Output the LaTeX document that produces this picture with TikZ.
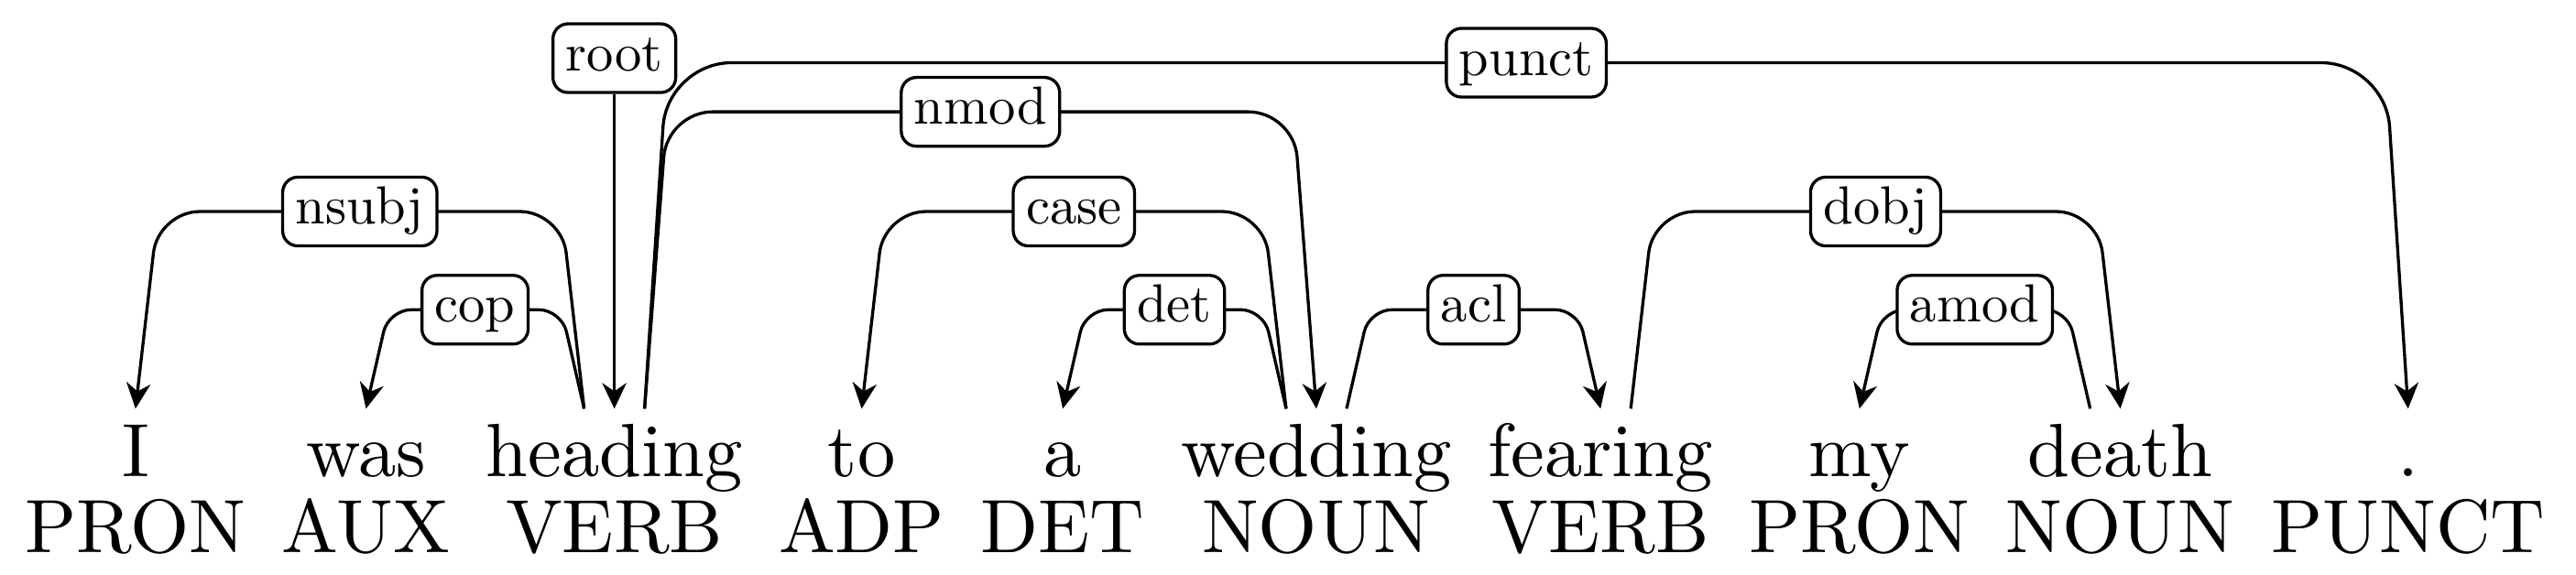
\documentclass[tikz,border=0pt]{standalone}
\usepackage{fontspec}
\usepackage{tikz}
\usetikzlibrary{arrows.meta,calc,matrix,positioning}
\newfontface\deplabelfont{lmroman10-regular.otf}
\tikzset{dep sentence/.style={
    matrix of nodes,
    column sep=4.8pt, row sep=1pt,
    inner sep=0pt,
    nodes={inner sep=0pt,
      text height=7pt,
      text depth=2pt,
      anchor=center
    },
  },
  dep edge/.style={draw, line width=0.4pt, rounded corners=#1},
  dep edge/.default=6pt,
  dep label/.style={draw, fill=white, rounded corners=2pt,
    font=\fontsize{7.1}{8}\deplabelfont,
    inner xsep=1.7pt, inner ysep=1.4pt, text height=4.8pt, text depth=1.5pt},
  dep left/.style={{Stealth[length=3.4pt,width=3.2pt]}-},
  dep right/.style={-{Stealth[length=3.4pt,width=3.2pt]}}
}
% #1 arrow side, #2 left end, #3 right end, #4 height, #5 corner, #6 label
\newcommand{\depedge}[6]{%
  \draw[dep edge=#5, #1] #2 -- ++(3pt,#4) -- node[dep label] {#6} ($#3+(-3pt,#4)$) -- #3;
}

\begin{document}
\begin{tikzpicture}
    \matrix (m) [dep sentence] at (0,0) {
        I & was & heading & to & a & wedding & fearing & my & death & . \\
        PRON & AUX & VERB & ADP & DET & NOUN & VERB & PRON & NOUN & PUNCT \\
    };
    \useasboundingbox ($(m.south west)+(-3.15pt,-0.8pt)$) rectangle ++(340.85pt,76.1pt);
    \foreach \i in {1,...,10}
        \coordinate (w\i) at ($(m-1-\i.north)+(0,1.8pt)$);
    \coordinate (w3l) at ($(w3)+(-4pt,0)$);
    \coordinate (w3r) at ($(w3)+(4pt,0)$);
    \coordinate (w6l) at ($(w6)+(-4pt,0)$);
    \coordinate (w6r) at ($(w6)+(4pt,0)$);
    \coordinate (w7r) at ($(w7)+(4pt,0)$);
    \coordinate (w9l) at ($(w9)+(-4pt,0)$);

    \node[dep label] (root) at ($(m-1-3.north)+(0,48.2pt)$) {root};
    \draw[dep right] (root.south) -- (w3);

    \depedge{dep left}{(w1)}{(w3l)}{26.1pt}{5.5pt}{nsubj}
    \depedge{dep left}{(w2)}{(w3l)}{13.1pt}{3pt}{cop}
    \depedge{dep right}{(w3r)}{(w10)}{45.8pt}{8.5pt}{punct}
    \depedge{dep right}{(w3r)}{(w6)}{39.3pt}{6pt}{nmod}
    \depedge{dep left}{(w4)}{(w6l)}{26.1pt}{5.5pt}{case}
    \depedge{dep left}{(w5)}{(w6l)}{13.1pt}{3pt}{det}
    \depedge{dep right}{(w6r)}{(w7)}{13.1pt}{3pt}{acl}
    \depedge{dep right}{(w7r)}{(w9)}{26.1pt}{5.5pt}{dobj}
    \depedge{dep left}{(w8)}{(w9l)}{13.1pt}{3pt}{amod}
\end{tikzpicture}
\end{document}
